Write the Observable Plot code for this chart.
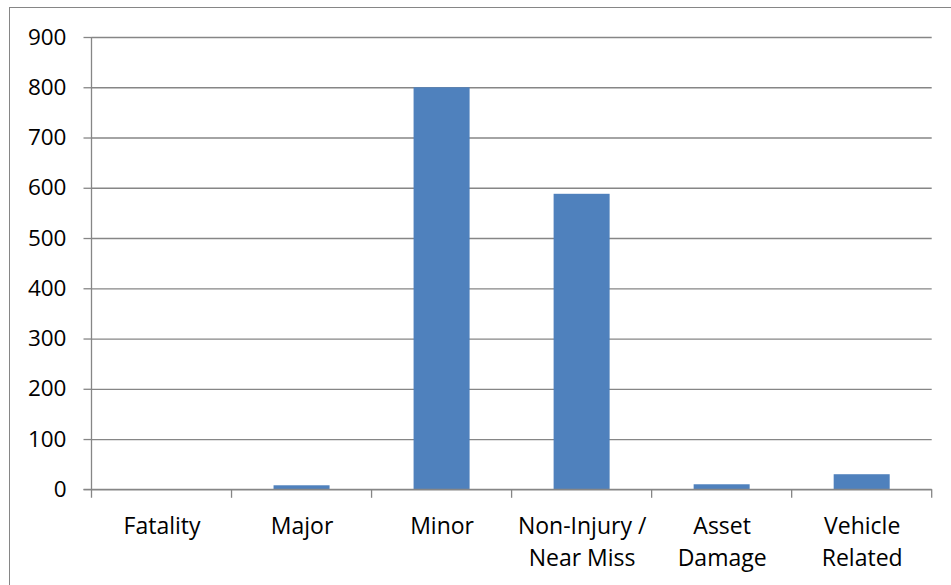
<!DOCTYPE html>
<html>
<head>
<meta charset="utf-8">
<script src="https://cdn.jsdelivr.net/npm/d3@7"></script>
<script src="https://cdn.jsdelivr.net/npm/@observablehq/plot@0.6"></script>
<style>
  html, body { margin: 0; padding: 0; background: #fff; }
  #chart { position: relative; width: 951px; height: 585px; overflow: hidden; }
  #border { position: absolute; left: 9px; top: 7px; width: 2000px; height: 2000px;
            border-left: 1.5px solid #868686; border-top: 1.5px solid #868686; pointer-events: none; }
</style>
</head>
<body>
<div id="chart"><div id="border"></div></div>
<script>
const categories = ["Fatality", "Major", "Minor", "Non-Injury /\nNear Miss", "Asset\nDamage", "Vehicle\nRelated"];
const values = [0, 8, 800, 588, 10, 30];
const yTicks = [0, 100, 200, 300, 400, 500, 600, 700, 800, 900];

const data = categories.map((c, i) => ({category: c, value: values[i]}));
const gray = "#868686";

const plot = Plot.plot({
  width: 951,
  height: 585,
  marginLeft: 91.5,
  marginRight: 19.3,
  marginTop: 37,
  marginBottom: 95.7,
  style: {fontFamily: "'Open Sans', sans-serif", fontSize: "23px", color: "#000", background: "transparent"},
  x: {domain: categories, paddingInner: 0.6, paddingOuter: 0.3, round: false, label: null},
  y: {domain: [0, 900], label: null},
  marks: [
    Plot.gridY(yTicks, {stroke: gray, strokeOpacity: 1, strokeWidth: 1.3}),
    Plot.axisY(yTicks, {tickSize: 8, tickPadding: 17.5, stroke: gray, strokeWidth: 1.3, strokeOpacity: 1, label: null, fontSize: 22.5}),
    Plot.barY(data, {x: "category", y: "value", fill: "#4F81BD"}),
    Plot.axisX({tickSize: 0, tickPadding: 21.5, label: null, fontSize: 23, lineHeight: 1.38})
  ]
});

document.getElementById("chart").appendChild(plot);

// axis lines and category boundary ticks, derived from the scales
const xs = plot.scale("x");
const ys = plot.scale("y");
const svg = d3.select(plot);
const x0 = xs.range[0];
const yBase = ys.range[0];
const yTop = ys.range[1];
const g = svg.append("g").attr("stroke", gray).attr("stroke-width", 1.3).attr("fill", "none");
// y axis line
g.append("line").attr("x1", x0).attr("x2", x0).attr("y1", yTop).attr("y2", yBase + 8.5);
// x axis line
g.append("line").attr("x1", x0 - 8).attr("x2", xs.range[1]).attr("y1", yBase).attr("y2", yBase);
// category boundary ticks
for (let i = 1; i <= categories.length; i++) {
  const xb = x0 + i * xs.step;
  g.append("line").attr("x1", xb).attr("x2", xb).attr("y1", yBase).attr("y2", yBase + 8.5);
}
</script>
</body>
</html>
